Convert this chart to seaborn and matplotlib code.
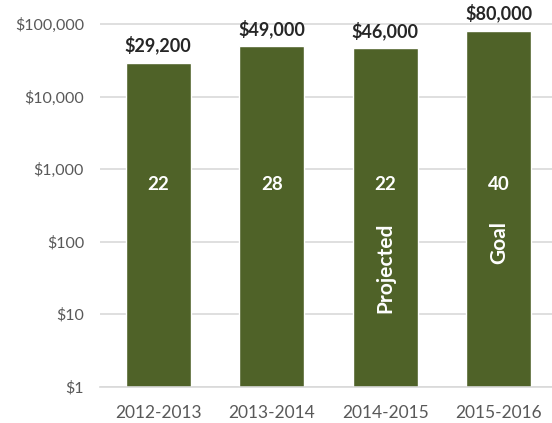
import matplotlib
matplotlib.use("Agg")
import matplotlib.pyplot as plt
import seaborn as sns
import pandas as pd

# Fundraising totals per school year (log-scaled dollar axis)
years = ["2012-2013", "2013-2014", "2014-2015", "2015-2016"]
amounts = [29200, 49000, 46000, 80000]
amount_labels = ["$29,200", "$49,000", "$46,000", "$80,000"]
counts = [22, 28, 22, 40]
status_labels = ["", "", "Projected", "Goal"]

y_ticks = [1, 10, 100, 1000, 10000, 100000]
y_tick_labels = ["$1", "$10", "$100", "$1,000", "$10,000", "$100,000"]

BAR_COLOR = "#4F6228"
GRID_COLOR = "#D9D9D9"
TICK_COLOR = "#595959"

sns.set_theme(style="white")
plt.rcParams["font.family"] = ["Lato", "DejaVu Sans"]

df = pd.DataFrame({"year": years, "amount": amounts})

fig = plt.figure(figsize=(5.52, 4.23), dpi=100)
ax = fig.add_axes([100 / 552, 36.3 / 423, 452 / 552, 386.7 / 423])
ax.set_yscale("log")

sns.barplot(data=df, x="year", y="amount", color=BAR_COLOR, saturation=1,
            width=0.572, ax=ax, zorder=2)

ax.set_ylim(1, 2.14e5)
ax.set_xlim(-0.512, 3.467)
ax.set_yticks(y_ticks)
ax.set_yticklabels(y_tick_labels)
ax.minorticks_off()
ax.yaxis.grid(True, color=GRID_COLOR, linewidth=1.2, zorder=0)
ax.xaxis.grid(False)
ax.set_axisbelow(True)
for side in ("top", "right", "left"):
    ax.spines[side].set_visible(False)
ax.spines["bottom"].set_color(GRID_COLOR)
ax.spines["bottom"].set_linewidth(1.2)
ax.set_xlabel("")
ax.set_ylabel("")
ax.tick_params(axis="y", length=0, pad=11.5, labelsize=11.5, labelcolor=TICK_COLOR)
ax.tick_params(axis="x", length=0, pad=13, labelsize=12.5, labelcolor=TICK_COLOR)

# Status text sits lower in the bar than the participant count
status_y = {"Projected": 43, "Goal": 97}

for i, (amt, lab, cnt, status) in enumerate(zip(amounts, amount_labels, counts, status_labels)):
    ax.annotate(lab, xy=(i, amt), xytext=(0, 8.4), textcoords="offset points",
                ha="center", va="baseline", fontsize=13, fontweight="bold",
                color="#262626", annotation_clip=False)
    ax.text(i, 610, str(cnt), ha="center", va="center", fontsize=13.5,
            fontweight="bold", color="white", zorder=3)
    if status:
        ax.text(i, status_y[status], status, ha="center", va="center", rotation=90,
                fontsize=15, fontweight="bold", color="white", zorder=3)

fig.savefig("out.png", dpi=100)
